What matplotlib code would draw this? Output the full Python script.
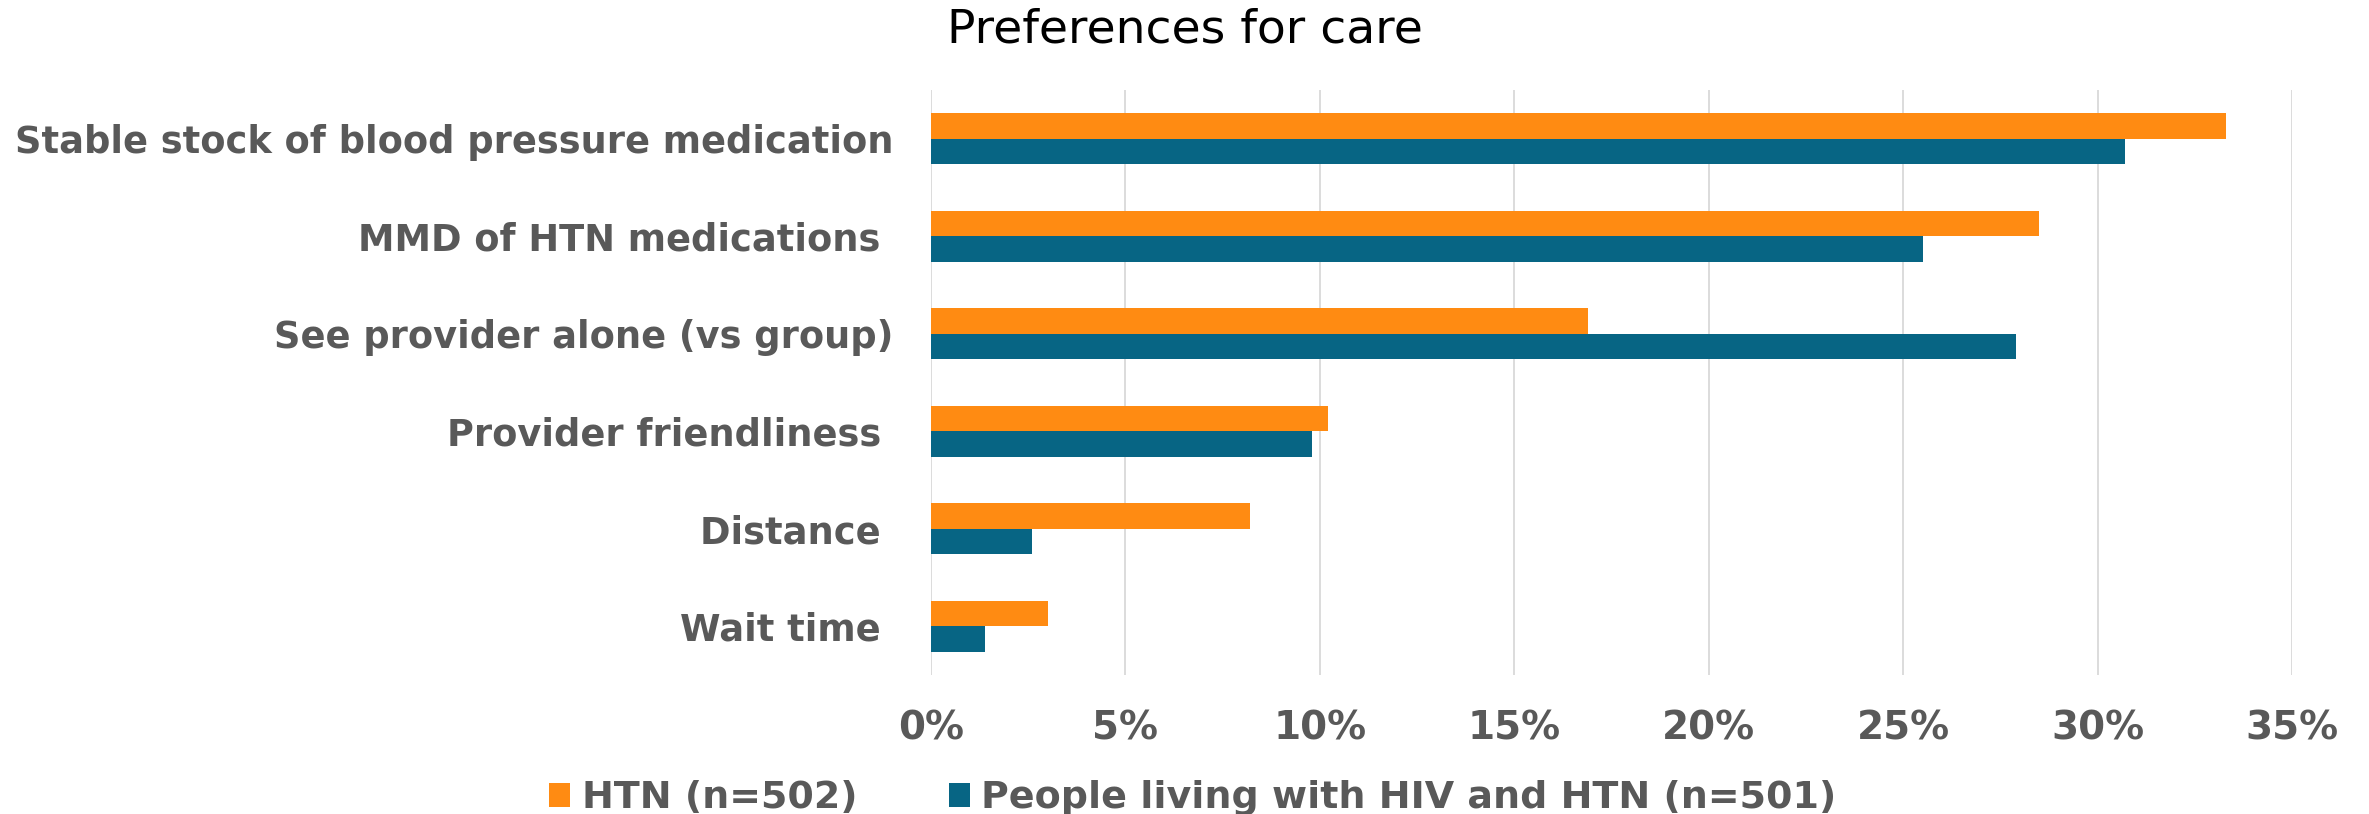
import numpy as np
import matplotlib
matplotlib.use('Agg')
import matplotlib.pyplot as plt
from matplotlib.ticker import PercentFormatter

#Survey data (share of respondents)
categories=['Stable stock of blood pressure medication','MMD of HTN medications ','See provider alone (vs group)','Provider friendliness ','Distance ','Wait time ']
htn=[33.3,28.5,16.9,10.2,8.2,3.0]
hiv_htn=[30.7,25.5,27.9,9.8,2.6,1.4]
series_names=['HTN (n=502)','People living with HIV and HTN (n=501)']

orange='#ff8b12'
blue='#076584'
grey='#595959'

fig=plt.figure(figsize=(23.69,8.14),dpi=100)
ax=fig.add_axes([0.393,0.1708,0.5745,0.7186])

y=np.arange(len(categories))
h=0.262
ax.barh(y-h/2,np.array(htn)/100,height=h,color=orange,label=series_names[0],zorder=3)
ax.barh(y+h/2,np.array(hiv_htn)/100,height=h,color=blue,label=series_names[1],zorder=3)

#Axis setup
ax.set_xlim(0,0.35)
ax.set_ylim(len(categories)-0.5,-0.5)
ax.set_xticks(np.arange(0,0.351,0.05))
ax.xaxis.set_major_formatter(PercentFormatter(1.0,decimals=0))
ax.set_yticks(y)
ax.set_yticklabels(categories)
ax.grid(axis='x',color='#d9d9d9',linewidth=1.3,zorder=0)
for s in ax.spines.values():
	s.set_visible(False)
ax.tick_params(axis='both',length=0,labelcolor=grey)
ax.tick_params(axis='x',pad=25,labelsize=28)
ax.tick_params(axis='y',pad=27,labelsize=26.5)
for lab in ax.get_xticklabels()+ax.get_yticklabels():
	lab.set_fontweight('bold')

#Title and legend
fig.text(0.5,0.963,'Preferences for care',ha='center',va='center',fontsize=34,color='black')
leg=fig.legend(loc='lower center',bbox_to_anchor=(0.5035,-0.045),ncol=2,frameon=False,
	handlelength=0.55,handleheight=0.6,handletextpad=0.3,columnspacing=2.4,
	prop={'size':27.4,'weight':'bold'})
for t in leg.get_texts():
	t.set_color(grey)

fig.savefig('out.png',dpi=100)
